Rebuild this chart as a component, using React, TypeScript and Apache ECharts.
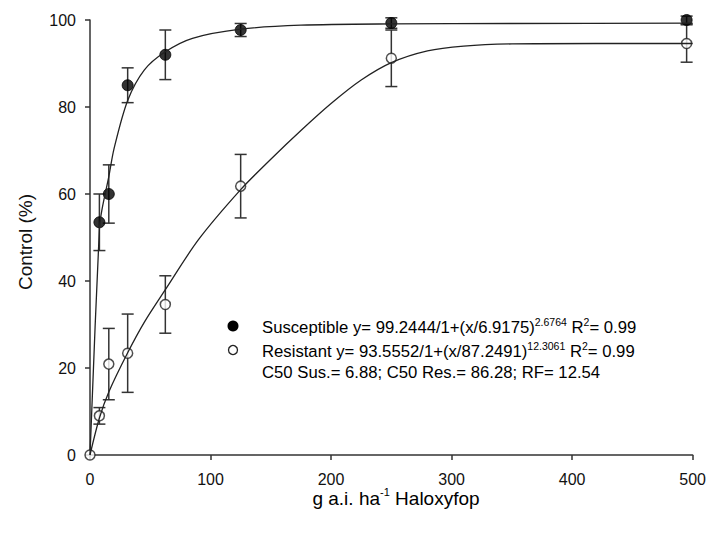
import React, { useEffect, useRef } from "react";
import * as echarts from "echarts";

// Observed dose-response data (x = g a.i. ha-1, y = control %, e = error)
const susX = [7.8, 15.6, 31.25, 62.5, 125, 250, 495];
const susY = [53.5, 60, 85, 92, 97.7, 99.3, 100];
const susE = [6.5, 6.7, 4, 5.7, 1.5, 1.2, 0.9];

const resX = [0, 7.8, 15.6, 31.25, 62.5, 125, 250, 495];
const resY = [0, 9, 20.9, 23.4, 34.6, 61.8, 91.2, 94.6];
const resE = [0, 1.9, 8.2, 9, 6.6, 7.3, 6.5, 4.3];

// Fitted curves
const susCurveX = [0, 7.8, 10, 15.6, 20, 31.25, 45, 62.5, 85, 125, 175, 250, 350, 500];
const susCurveY = [0, 52, 56.5, 64, 70.5, 81.5, 88.5, 92.7, 95.8, 97.9, 98.8, 99.1, 99.2, 99.3];

const resCurveX = [0, 7.8, 15.6, 31.25, 45, 62.5, 90, 125, 150, 175, 200, 225, 250, 280, 310, 350, 420, 500];
const resCurveY = [0, 8.5, 14.5, 23.5, 30.5, 38, 49.5, 61, 68, 74.6, 80.8, 86.2, 90.2, 92.9, 94, 94.5, 94.6, 94.6];

const xTicks = { min: 0, max: 500, interval: 100 };
const yTicks = { min: 0, max: 100, interval: 20 };

const FONT = "'Liberation Sans', Arial, sans-serif";

function errorSeries(xs: number[], ys: number[], es: number[]) {
  return {
    type: "custom",
    z: 1,
    silent: true,
    data: xs.map((x, i) => [x, ys[i], es[i]]),
    renderItem: (_params: any, api: any) => {
      const x = api.value(0);
      const y = api.value(1);
      const e = api.value(2);
      if (!e) return { type: "group", children: [] };
      const top = api.coord([x, y + e]);
      const bot = api.coord([x, y - e]);
      const hw = 6;
      const st = { stroke: "#333", lineWidth: 1.5 };
      return {
        type: "group",
        children: [
          { type: "line", shape: { x1: top[0], y1: top[1], x2: bot[0], y2: bot[1] }, style: st },
          { type: "line", shape: { x1: top[0] - hw, y1: top[1], x2: top[0] + hw, y2: top[1] }, style: st },
          { type: "line", shape: { x1: bot[0] - hw, y1: bot[1], x2: bot[0] + hw, y2: bot[1] }, style: st },
        ],
      };
    },
  };
}

export default function App() {
  const ref = useRef<HTMLDivElement>(null);
  useEffect(() => {
    document.body.style.margin = "0";
    const chart = echarts.init(ref.current!, null, { renderer: "svg" });
    const rich = {
      t: { fontSize: 16.7, fontFamily: FONT, color: "#111" },
      s: { fontSize: 10.5, fontFamily: FONT, color: "#111", padding: [0, 0, 11, 0] },
    };
    chart.setOption({
      animation: false,
      backgroundColor: "#fff",
      grid: { left: 90, right: 15, top: 20, bottom: 81 },
      xAxis: {
        type: "value",
        min: xTicks.min,
        max: xTicks.max,
        interval: xTicks.interval,
        axisLine: { lineStyle: { color: "#333", width: 1.5 } },
        axisTick: { length: 5, lineStyle: { color: "#333", width: 1.5 } },
        axisLabel: { fontSize: 16, fontFamily: FONT, color: "#111", margin: 16 },
        splitLine: { show: false },
      },
      yAxis: {
        type: "value",
        min: yTicks.min,
        max: yTicks.max,
        interval: yTicks.interval,
        axisLine: { show: true, lineStyle: { color: "#333", width: 1.5 } },
        axisTick: { show: true, length: 5, lineStyle: { color: "#333", width: 1.5 } },
        axisLabel: { fontSize: 16, fontFamily: FONT, color: "#111", margin: 14 },
        splitLine: { show: false },
      },
      series: [
        errorSeries(susX, susY, susE),
        errorSeries(resX, resY, resE),
        {
          type: "scatter",
          z: 2,
          symbolSize: 11,
          data: susX.map((x, i) => [x, susY[i]]),
          itemStyle: { color: "#000", borderColor: "#000", borderWidth: 1 },
        },
        {
          type: "scatter",
          z: 2,
          symbolSize: 10,
          data: resX.map((x, i) => [x, resY[i]]),
          itemStyle: { color: "#fff", borderColor: "#222", borderWidth: 1.5 },
        },
        {
          type: "line",
          z: 3,
          showSymbol: false,
          smooth: 0.3,
          data: susCurveX.map((x, i) => [x, susCurveY[i]]),
          lineStyle: { color: "#222", width: 1.3 },
        },
        {
          type: "line",
          z: 3,
          showSymbol: false,
          smooth: 0.3,
          data: resCurveX.map((x, i) => [x, resCurveY[i]]),
          lineStyle: { color: "#222", width: 1.3 },
        },
      ],
      graphic: [
        { type: "circle", shape: { cx: 233, cy: 326, r: 5.5 }, style: { fill: "#000" } },
        { type: "circle", shape: { cx: 233, cy: 350, r: 4.5 }, style: { fill: "#fff", stroke: "#222", lineWidth: 1.3 } },
        {
          type: "text",
          x: 262,
          y: 327,
          style: {
            text: "{t|Susceptible y= 99.2444/1+(x/6.9175)}{s|2.6764}{t| R}{s|2}{t|= 0.99}",
            rich,
            verticalAlign: "middle",
          },
        },
        {
          type: "text",
          x: 262,
          y: 351,
          style: {
            text: "{t|Resistant y= 93.5552/1+(x/87.2491)}{s|12.3061}{t| R}{s|2}{t|= 0.99}",
            rich,
            verticalAlign: "middle",
          },
        },
        {
          type: "text",
          x: 262,
          y: 372,
          style: {
            text: "{t|C50 Sus.= 6.88; C50 Res.= 86.28; RF= 12.54}",
            rich,
            verticalAlign: "middle",
          },
        },
        {
          type: "text",
          x: 396,
          y: 498,
          style: {
            text: "{t|g a.i. ha}{s|-1}{t| Haloxyfop}",
            rich: {
              t: { fontSize: 19, fontFamily: FONT, color: "#111" },
              s: { fontSize: 11, fontFamily: FONT, color: "#111", padding: [0, 0, 12, 0] },
            },
            align: "center",
            verticalAlign: "middle",
          },
        },
        {
          type: "text",
          x: 25,
          y: 242,
          rotation: Math.PI / 2,
          style: {
            text: "Control (%)",
            fontSize: 19,
            fontFamily: FONT,
            fill: "#111",
            align: "center",
            verticalAlign: "middle",
          },
        },
      ],
    });
    return () => chart.dispose();
  }, []);
  return <div ref={ref} style={{ width: 709, height: 536 }} />;
}
